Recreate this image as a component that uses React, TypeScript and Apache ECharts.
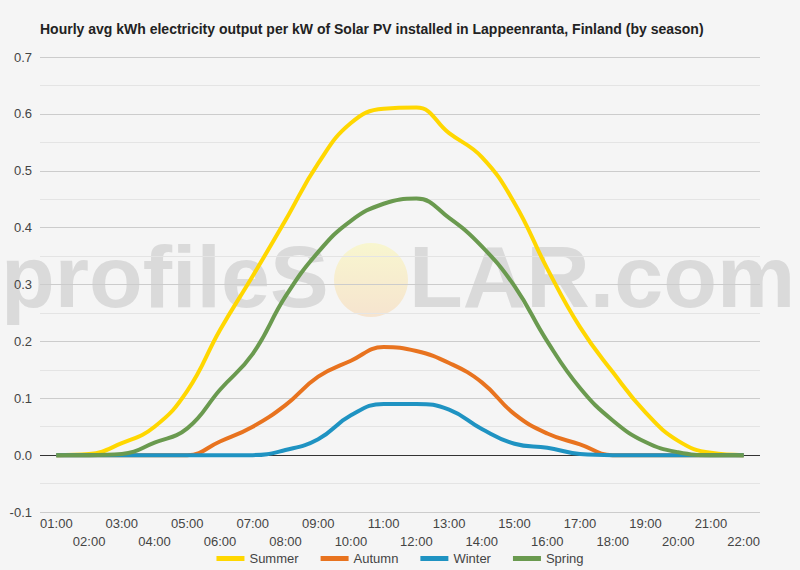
import React, { useEffect, useRef } from "react";
import * as echarts from "echarts";

const TITLE = "Hourly avg kWh electricity output per kW of Solar PV installed in Lappeenranta, Finland (by season)";
const hours = ["01:00","02:00","03:00","04:00","05:00","06:00","07:00","08:00","09:00","10:00","11:00","12:00","13:00","14:00","15:00","16:00","17:00","18:00","19:00","20:00","21:00","22:00"];
const summer = [0, 0.002, 0.021, 0.05, 0.113, 0.22, 0.315, 0.413, 0.513, 0.584, 0.609, 0.611, 0.566, 0.524, 0.443, 0.328, 0.225, 0.146, 0.075, 0.025, 0.004, 0];
const autumn = [0, 0, 0, 0, 0, 0.024, 0.05, 0.088, 0.138, 0.166, 0.19, 0.183, 0.162, 0.128, 0.072, 0.038, 0.019, 0, 0, 0, 0, 0];
const winter = [0, 0, 0, 0, 0, 0, 0, 0.009, 0.028, 0.07, 0.09, 0.09, 0.08, 0.046, 0.02, 0.013, 0.002, 0, 0, 0, 0, 0];
const spring = [0, 0, 0.002, 0.022, 0.047, 0.115, 0.178, 0.279, 0.357, 0.412, 0.442, 0.451, 0.417, 0.367, 0.297, 0.2, 0.118, 0.061, 0.023, 0.005, 0, 0];
const seriesNames = ["Summer", "Autumn", "Winter", "Spring"];
const seriesColors = ["#FFD700", "#E8731F", "#1F93C2", "#6A9A4F"];
const seriesData = [summer, autumn, winter, spring];

export default function App() {
  const ref = useRef<HTMLDivElement>(null);
  useEffect(() => {
    if (!ref.current) return;
    const chart = echarts.init(ref.current, null, { renderer: "svg" });
    const font = "Arial, 'Liberation Sans', sans-serif";
    chart.setOption({
      animation: false,
      backgroundColor: "#f5f5f5",
      textStyle: { fontFamily: font },
      title: {
        text: TITLE,
        left: 35,
        top: 17,
        textStyle: { fontSize: 14, fontWeight: "bold", color: "#222", fontFamily: font },
      },
      graphic: [
        {
          type: "text",
          z: -10,
          silent: true,
          style: { text: "profileS", x: 1, y: 276, font: `bold 88px ${font}`, fill: "#dadada", verticalAlign: "middle" },
        },
        {
          type: "circle",
          z: -10,
          silent: true,
          shape: { cx: 371, cy: 280, r: 37 },
          style: {
            fill: new echarts.graphic.LinearGradient(0, 0, 0, 1, [
              { offset: 0, color: "#f8f6cf" },
              { offset: 1, color: "#f6e4cf" },
            ]),
          },
        },
        {
          type: "text",
          z: -10,
          silent: true,
          style: { text: "LAR.com", x: 409, y: 276, font: `bold 88px ${font}`, fill: "#dadada", verticalAlign: "middle" },
        },
      ],
      legend: {
        data: seriesNames,
        bottom: 0,
        left: "center",
        icon: "rect",
        itemWidth: 28,
        itemHeight: 5,
        itemGap: 22,
        textStyle: { fontSize: 13, color: "#444", fontFamily: font },
      },
      grid: { left: 40, right: 40, top: 57, bottom: 58, containLabel: false },
      xAxis: {
        type: "category",
        data: hours,
        boundaryGap: true,
        axisLine: { show: false },
        axisTick: { show: false },
        axisLabel: {
          interval: 0,
          margin: 2,
          fontSize: 13,
          color: "#444",
          lineHeight: 18,
          hideOverlap: false,
          formatter: (v: string, i: number) => (i % 2 === 1 ? "\n" + v : v),
        },
        splitLine: { show: false },
      },
      yAxis: {
        type: "value",
        min: -0.1,
        max: 0.7,
        interval: 0.1,
        axisLine: { show: false },
        axisTick: { show: false },
        axisLabel: {
          fontSize: 13,
          color: "#444",
          margin: 8,
          formatter: (v: number) => v.toFixed(1),
        },
        splitLine: { show: true, lineStyle: { color: "#cccccc", width: 1 } },
        minorTick: { show: false, splitNumber: 2 },
        minorSplitLine: { show: true, lineStyle: { color: "#e4e4e4", width: 1 } },
      },
      series: seriesNames.map((name, k) => ({
        name,
        type: "line",
        data: seriesData[k],
        smooth: 0.45,
        showSymbol: false,
        symbol: "none",
        lineStyle: { color: seriesColors[k], width: 4 },
        itemStyle: { color: seriesColors[k] },
        z: 3,
        markLine:
          k === 0
            ? {
                silent: true,
                symbol: "none",
                label: { show: false },
                lineStyle: { color: "#333", width: 1, type: "solid" },
                data: [{ yAxis: 0 }],
                z: 1,
              }
            : undefined,
      })),
    });
    return () => chart.dispose();
  }, []);
  return <div ref={ref} style={{ position: "fixed", left: 0, top: 0, width: 800, height: 570 }} />;
}
